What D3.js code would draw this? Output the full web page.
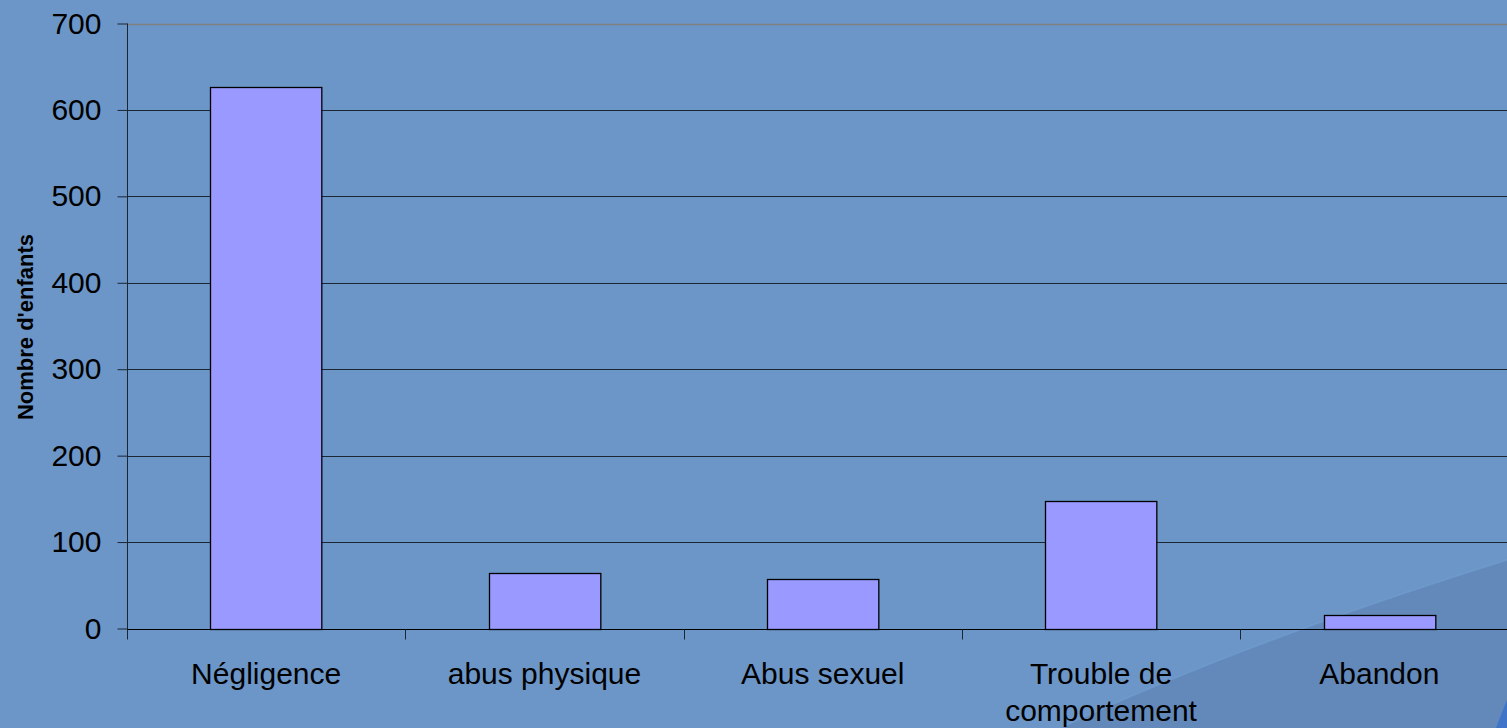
<!DOCTYPE html>
<html>
<head>
<meta charset="utf-8">
<script src="https://cdn.jsdelivr.net/npm/d3@7"></script>
<style>
  body { margin: 0; background: #6c96c8; overflow: hidden; }
  svg { display: block; font-family: "Liberation Sans", Arial, sans-serif; }
</style>
</head>
<body>
<div id="chart"></div>
<script>
const categories = ["Négligence", "abus physique", "Abus sexuel", "Trouble de comportement", "Abandon"];
const values = [627, 64, 57, 148, 16];
const yTicks = [0, 100, 200, 300, 400, 500, 600, 700];

const W = 1507, H = 728;
const margin = { top: 23, left: 127, bottom: 99 };
const plotRight = 1518.5;

const svg = d3.select("#chart").append("svg")
    .attr("width", W)
    .attr("height", H);

// background swoosh (slide theme decoration)
svg.append("path")
    .attr("d", "M1060,728 Q1250,640 1507,560 L1507,728 Z")
    .attr("fill", "#6389bb");
svg.append("path")
    .attr("d", "M1060,728 Q1250,640 1507,560")
    .attr("fill", "none")
    .attr("stroke", "#74a0d2")
    .attr("stroke-width", 2)
    .attr("opacity", 0.5);
svg.append("path")
    .attr("d", "M1496,728 Q1502,712 1507,700 L1507,728 Z")
    .attr("fill", "#3f74c8");

const x = d3.scaleBand()
    .domain(categories)
    .range([margin.left, plotRight])
    .paddingInner(0.6)
    .paddingOuter(0.3);

const y = d3.scaleLinear()
    .domain([0, 700])
    .range([H - margin.bottom - 0.5, margin.top + 0.5]);

// gridlines
svg.append("g")
    .selectAll("line")
    .data(yTicks.filter(d => d > 0 && d < 700))
    .join("line")
    .attr("x1", margin.left)
    .attr("x2", W)
    .attr("y1", d => Math.round(y(d)) + 0.5)
    .attr("y2", d => Math.round(y(d)) + 0.5)
    .attr("stroke", "#1b2633")
    .attr("stroke-width", 1);

// top border of plot area
svg.append("line")
    .attr("x1", margin.left).attr("x2", W)
    .attr("y1", Math.round(y(700)) + 0.5).attr("y2", Math.round(y(700)) + 0.5)
    .attr("stroke", "#808080")
    .attr("stroke-width", 1.5);

// bars
svg.append("g")
    .selectAll("rect")
    .data(values)
    .join("rect")
    .attr("x", (d, i) => Math.round(x(categories[i])) + 0.5)
    .attr("y", d => Math.round(y(d)) + 0.5)
    .attr("width", x.bandwidth())
    .attr("height", d => Math.round(y(0)) - Math.round(y(d)))
    .attr("fill", "#9999ff")
    .attr("stroke", "#000")
    .attr("stroke-width", 1.3);

// y axis
const yAxis = svg.append("g")
    .attr("transform", "translate(" + (margin.left + 0.5) + ",0)")
    .call(d3.axisLeft(y).tickValues(yTicks).tickSize(10).tickPadding(16).tickFormat(d3.format("d")));
yAxis.select(".domain").attr("d", "M0," + y(700) + "V" + (y(0) + 10)).attr("stroke", "#1b2633");
yAxis.selectAll(".tick line").attr("stroke", "#1b2633");
yAxis.selectAll(".tick text")
    .attr("fill", "#000")
    .style("font-size", "30px")
    .style("font-family", "'Liberation Sans', Arial, sans-serif");

// x axis
const xAxis = svg.append("g")
    .attr("transform", "translate(0," + (Math.round(y(0)) + 0.5) + ")")
    .call(d3.axisBottom(x).tickSize(0).tickFormat(""));
xAxis.select(".domain").attr("d", "M" + margin.left + ",0H" + W).attr("stroke", "#000");
xAxis.selectAll(".tick").remove();

// category separators (ticks between categories)
const sepPositions = d3.range(categories.length + 1).map(i => margin.left + i * (plotRight - margin.left) / categories.length);
xAxis.append("g")
    .selectAll("line")
    .data(sepPositions)
    .join("line")
    .attr("x1", d => Math.round(d) + 0.5)
    .attr("x2", d => Math.round(d) + 0.5)
    .attr("y1", 0)
    .attr("y2", 10)
    .attr("stroke", "#1b2633");

// category labels
const labels = svg.append("g")
    .selectAll("text")
    .data(categories)
    .join("text")
    .attr("x", d => x(d) + x.bandwidth() / 2)
    .attr("y", 684)
    .attr("text-anchor", "middle")
    .style("font-size", "30px")
    .attr("fill", "#000");

labels.each(function (d) {
    const t = d3.select(this);
    if (d === "Trouble de comportement") {
        t.append("tspan").attr("x", x(d) + x.bandwidth() / 2).attr("dy", 0).text("Trouble de");
        t.append("tspan").attr("x", x(d) + x.bandwidth() / 2).attr("dy", 37).text("comportement");
    } else {
        t.text(d);
    }
});

// y axis title
svg.append("text")
    .attr("transform", "translate(33," + 327 + ") rotate(-90)")
    .attr("text-anchor", "middle")
    .style("font-size", "22px")
    .style("font-weight", "bold")
    .attr("fill", "#000")
    .text("Nombre d'enfants");
</script>
</body>
</html>
